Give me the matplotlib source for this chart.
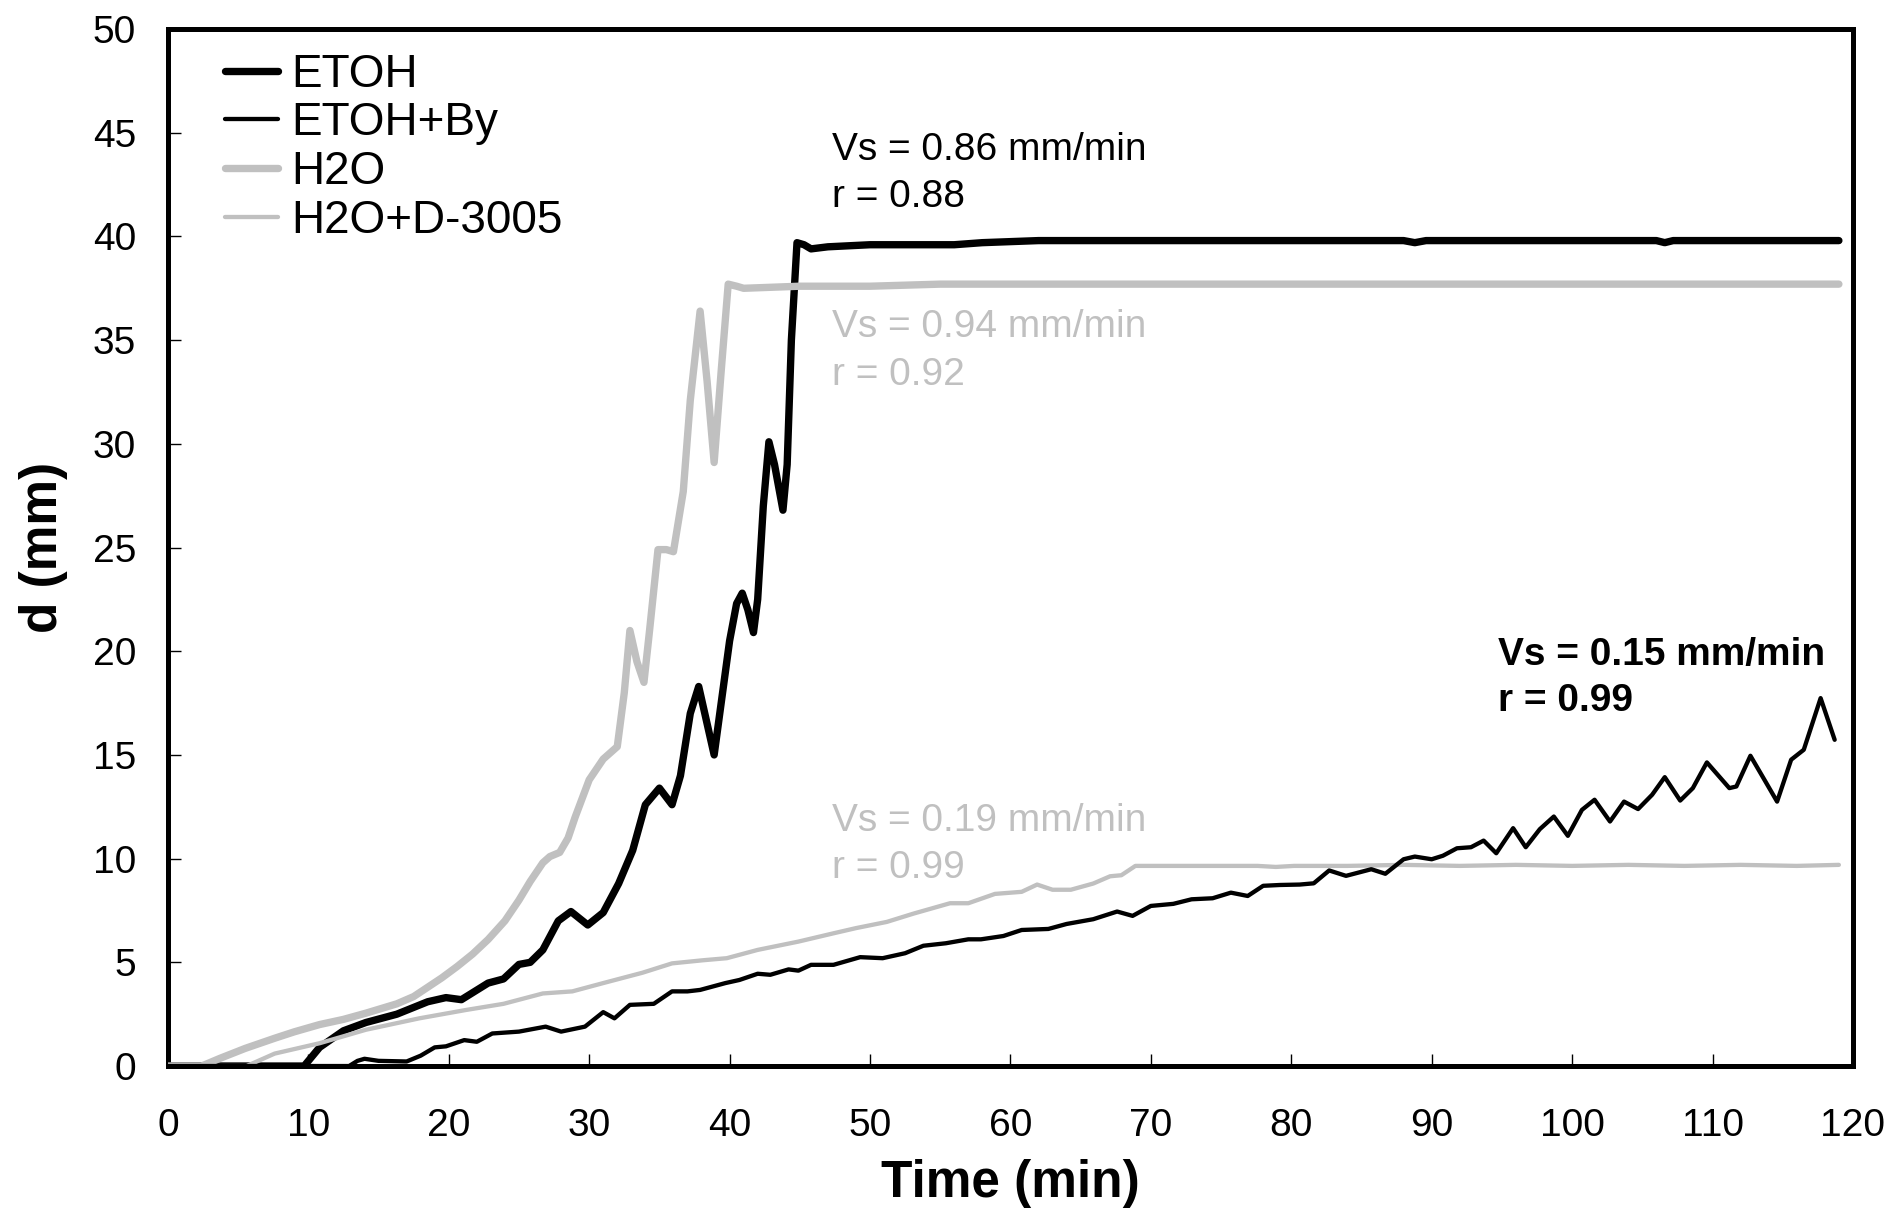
import numpy as np
import matplotlib
matplotlib.use("Agg")
import matplotlib.pyplot as plt

plt.rcParams['font.family'] = ['Liberation Sans', 'DejaVu Sans']

# ETOH (thick black)
t_etoh = [0, 9.7, 10.8, 12.5, 14.1, 16.3, 18.5, 19.8, 20.9, 22.8, 23.9, 25.0, 25.8,
          26.7, 27.8, 28.7, 29.9, 31.0, 32.1, 33.1, 34.0, 35.0, 35.9, 36.5, 37.2,
          37.8, 38.4, 38.9, 39.4, 40.0, 40.5, 40.9, 41.3, 41.7, 42.0, 42.4, 42.8,
          43.2, 43.8, 44.1, 44.4, 44.8, 45.3, 45.8, 47, 50, 53, 56, 58, 62, 66,
          70, 75, 80, 85, 88, 88.8, 89.6, 95, 100, 106, 106.6, 107.2, 112, 119]
d_etoh = [0, 0, 0.9, 1.7, 2.1, 2.5, 3.1, 3.3, 3.2, 4.0, 4.2, 4.9, 5.0,
          5.6, 7.0, 7.45, 6.8, 7.4, 8.8, 10.4, 12.6, 13.4, 12.6, 14.0, 17.0,
          18.3, 16.5, 15.0, 17.5, 20.5, 22.3, 22.8, 22.0, 20.9, 22.5, 27.0, 30.1,
          29.0, 26.8, 29.0, 35.0, 39.7, 39.6, 39.4, 39.5, 39.6, 39.6, 39.6, 39.7, 39.8, 39.8,
          39.8, 39.8, 39.8, 39.8, 39.8, 39.7, 39.8, 39.8, 39.8, 39.8, 39.7, 39.8, 39.8, 39.8]

# ETOH+By (thin black)
t_etoh_by = [0, 12.9, 13.5, 14.0, 15.0, 17.0, 18.0, 19.0, 19.8, 21.1, 22.0, 23.1, 25.0,
             26.9, 28.0, 29.7, 31.0, 31.8, 32.9, 34.6, 35.9, 37.0, 37.9, 39.7, 40.7,
             42.0, 42.9, 44.2, 44.9, 45.8, 47.4, 49.3, 50.9, 52.5, 53.8, 55.4, 57.0,
             57.9, 59.5, 60.8, 62.7, 64.0, 65.9, 67.6, 68.7, 70.0, 71.6, 72.9, 74.4,
             75.7, 76.9, 78.0, 79.2, 80.6, 81.6, 82.7, 83.9, 85.7, 86.7, 88.0, 88.8,
             90.0, 90.8, 91.8, 92.8, 93.7, 94.6, 95.8, 96.7, 97.7, 98.7, 99.7, 100.7,
             101.6, 102.7, 103.7, 104.7, 105.7, 106.6, 107.7, 108.6, 109.6, 111.2,
             111.7, 112.7, 113.7, 114.6, 115.6, 116.5, 117.7, 118.7]
d_etoh_by = [0, 0, 0.25, 0.35, 0.25, 0.22, 0.5, 0.9, 0.95, 1.25, 1.17, 1.57, 1.66,
             1.9, 1.66, 1.9, 2.6, 2.3, 2.95, 3.0, 3.6, 3.6, 3.67, 4.0, 4.15,
             4.45, 4.4, 4.66, 4.6, 4.88, 4.88, 5.25, 5.2, 5.44, 5.8, 5.92, 6.11,
             6.11, 6.27, 6.56, 6.61, 6.85, 7.08, 7.45, 7.24, 7.72, 7.82, 8.04, 8.09,
             8.36, 8.2, 8.69, 8.73, 8.75, 8.81, 9.43, 9.17, 9.49, 9.27, 9.97, 10.1,
             9.97, 10.14, 10.5, 10.55, 10.87, 10.26, 11.47, 10.55, 11.42, 12.03, 11.1, 12.35,
             12.84, 11.79, 12.75, 12.39, 13.08, 13.93, 12.8, 13.4, 14.64, 13.4,
             13.48, 14.96, 13.8, 12.75, 14.77, 15.25, 17.74, 15.73]

# H2O (thick grey)
t_h2o = [0, 2.4, 3.7, 5.5, 7.6, 9.0, 10.8, 12.5, 14.1, 16.3, 17.5, 18.5, 19.5, 20.6,
         21.7, 22.8, 24.0, 25.0, 25.8, 26.7, 27.2, 27.9, 28.5, 29.0, 30.0, 31.0, 32.0,
         32.5, 32.9, 33.4, 33.9, 34.3, 34.9, 35.5, 36.0, 36.7, 37.2, 37.9, 38.4, 38.9,
         39.4, 39.9, 40.5, 41.0, 45, 50, 55, 60, 70, 80, 90, 100, 110, 119]
d_h2o = [0, 0, 0.37, 0.85, 1.34, 1.65, 2.0, 2.25, 2.55, 3.0, 3.35, 3.8, 4.25, 4.8,
         5.4, 6.1, 7.0, 8.0, 8.9, 9.8, 10.1, 10.3, 11.0, 12.0, 13.8, 14.8, 15.4,
         18.0, 21.0, 19.5, 18.5, 21.0, 24.9, 24.9, 24.8, 27.7, 32.1, 36.4, 33.0, 29.1,
         33.5, 37.7, 37.6, 37.5, 37.6, 37.6, 37.7, 37.7, 37.7, 37.7, 37.7, 37.7, 37.7, 37.7]

# H2O+D-3005 (thin grey)
t_h2o_d = [0, 5.6, 7.6, 10.8, 14.1, 17.9, 21.2, 23.9, 26.7, 28.8, 31.0, 33.8, 35.9,
           38.1, 39.8, 42.0, 44.9, 47.4, 49.0, 51.2, 53.1, 55.7, 57.0, 58.9, 60.8,
           61.9, 63.0, 64.3, 65.9, 67.1, 67.9, 68.9, 72, 77.6, 78.9, 80.2, 84, 88,
           92, 96, 100, 104, 108, 112, 116, 119]
d_h2o_d = [0, 0, 0.6, 1.1, 1.75, 2.3, 2.7, 3.0, 3.5, 3.6, 4.0, 4.5, 4.95,
           5.1, 5.2, 5.6, 6.0, 6.4, 6.65, 6.95, 7.35, 7.85, 7.85, 8.3, 8.4,
           8.75, 8.5, 8.5, 8.8, 9.15, 9.2, 9.65, 9.65, 9.65, 9.6, 9.65, 9.65, 9.7,
           9.65, 9.7, 9.65, 9.7, 9.65, 9.7, 9.65, 9.7]

labels = ['ETOH', 'ETOH+By', 'H2O', 'H2O+D-3005']
grey = '#c0c0c0'

fig = plt.figure(figsize=(18.89, 12.15), dpi=100)
ax = fig.add_axes([0.0889, 0.1226, 0.892, 0.8535])

# draw order: thick black at the back, thin black on top
l1, = ax.plot(t_etoh, d_etoh, color='black', lw=5.3, zorder=2,
              solid_joinstyle='round', solid_capstyle='round')
l2, = ax.plot(t_etoh_by, d_etoh_by, color='black', lw=3.1, zorder=4,
              solid_joinstyle='round', solid_capstyle='round')
l3, = ax.plot(t_h2o, d_h2o, color=grey, lw=5.3, zorder=3,
              solid_joinstyle='round', solid_capstyle='round')
l4, = ax.plot(t_h2o_d, d_h2o_d, color=grey, lw=3.1, zorder=3,
              solid_joinstyle='round', solid_capstyle='round')

ax.set_xlim(0, 120)
ax.set_ylim(0, 50)
ax.set_xticks(np.arange(0, 121, 10))
ax.set_yticks(np.arange(0, 51, 5))
ax.tick_params(axis='both', direction='in', length=9, width=1, labelsize=28)
ax.tick_params(axis='x', pad=30)
ax.tick_params(axis='y', pad=23)
for s in ax.spines.values():
    s.set_linewidth(3.6)

ax.set_xlabel('Time (min)', fontsize=37, fontweight='bold', labelpad=11)
ax.set_ylabel('d (mm)', fontsize=37, fontweight='bold', labelpad=18)

# slope annotations
ax.text(47.3, 43.7, 'Vs = 0.86 mm/min', fontsize=28, color='black')
ax.text(47.3, 41.4, 'r = 0.88', fontsize=28, color='black')
ax.text(47.3, 35.15, 'Vs = 0.94 mm/min', fontsize=28, color=grey)
ax.text(47.3, 32.85, 'r = 0.92', fontsize=28, color=grey)
ax.text(47.3, 11.33, 'Vs = 0.19 mm/min', fontsize=28, color=grey)
ax.text(47.3, 9.05, 'r = 0.99', fontsize=28, color=grey)
ax.text(94.7, 19.33, 'Vs = 0.15 mm/min', fontsize=28, color='black', fontweight='bold')
ax.text(94.7, 17.1, 'r = 0.99', fontsize=28, color='black', fontweight='bold')

ax.legend([l1, l2, l3, l4], labels, loc='upper left', bbox_to_anchor=(0.034, 0.977),
          frameon=False, fontsize=33, borderaxespad=0, borderpad=0,
          handlelength=1.15, handletextpad=0.3, labelspacing=0.1)

fig.savefig('out.png', dpi=100)
